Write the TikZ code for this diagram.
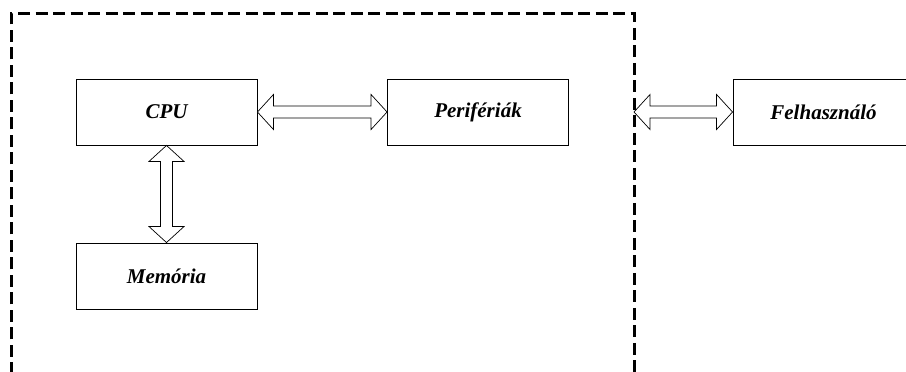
\documentclass[tikz,border=0pt]{standalone}
\usepackage{fontspec}
\setmainfont{Liberation Serif}
\usetikzlibrary{calc}

\tikzset{
  unit/.style={draw,line width=0.9pt,minimum width=181pt,minimum height=66pt,inner sep=0pt,
    font=\fontsize{21}{25}\selectfont\bfseries\itshape},
  hollow/.style={draw,line width=0.7pt,fill=white,line join=miter}
}
% hollow double-headed block arrow between two points
\newcommand{\bus}[2]{%
  \draw[hollow] (#1)
    -- ($(#1)!16pt!(#2)!17.5pt!90:(#2)$)
    -- ($(#1)!16pt!(#2)!6pt!90:(#2)$)
    -- ($(#2)!16pt!(#1)!6pt!-90:(#1)$)
    -- ($(#2)!16pt!(#1)!17.5pt!-90:(#1)$)
    -- (#2)
    -- ($(#2)!16pt!(#1)!17.5pt!90:(#1)$)
    -- ($(#2)!16pt!(#1)!6pt!90:(#1)$)
    -- ($(#1)!16pt!(#2)!6pt!-90:(#2)$)
    -- ($(#1)!16pt!(#2)!17.5pt!-90:(#2)$)
    -- cycle;}

\begin{document}
\begin{tikzpicture}[line cap=butt,x=1pt,y=1pt]
\useasboundingbox (0,0) rectangle (906,372);
\clip (0,0) rectangle (906,372);
% computer boundary
\draw[line width=3pt,dash pattern=on 12pt off 5.5pt] (11,-20)--(11,358)--(634,358)--(634,-20);
\coordinate (edge) at (634,260);
% units
\node[unit] (cpu) at (166.5,260) {CPU};
\node[unit] (per) at (478,260) {Perifériák};
\node[unit] (usr) at (823.5,260) {Felhasználó};
\node[unit] (mem) at (166.5,96) {Memória};
% buses
\bus{cpu.east}{per.west}
\bus{cpu.south}{mem.north}
\bus{edge}{usr.west}
\end{tikzpicture}
\end{document}
